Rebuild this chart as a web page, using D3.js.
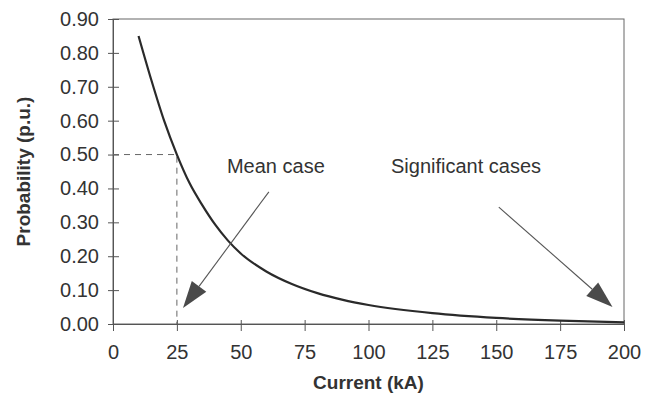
<!DOCTYPE html>
<html>
<head>
<meta charset="utf-8">
<script src="https://cdn.jsdelivr.net/npm/d3@7"></script>
<style>
  body { margin: 0; background: #fff; }
  svg text { font-family: "Liberation Sans", Arial, sans-serif; fill: #333; }
</style>
</head>
<body>
<div id="chart"></div>
<script>
const width = 657;
const height = 411;
const margin = { top: 19, right: 33, bottom: 87, left: 113 };

// current (kA) and probability (p.u.)
const current = [10, 15, 20, 25, 30, 35, 40, 45, 50, 60, 70, 80, 90, 100, 125, 150, 175, 200];
const probability = [0.85, 0.72, 0.6, 0.5, 0.415, 0.35, 0.293, 0.246, 0.208, 0.155, 0.118, 0.091, 0.071, 0.056, 0.032, 0.018, 0.01, 0.005];

const xTicks = [0, 25, 50, 75, 100, 125, 150, 175, 200];
const yTicks = [0, 0.1, 0.2, 0.3, 0.4, 0.5, 0.6, 0.7, 0.8, 0.9];

const meanCase = { x: 25, y: 0.5 };

// annotations: label position and arrow from/to, in data units
const notes = [
  { text: "Mean case", tx: 44.6, ty: 0.445, x1: 61, y1: 0.39, x2: 27.4, y2: 0.047 },
  { text: "Significant cases", tx: 108.8, ty: 0.445, x1: 151, y1: 0.345, x2: 195.5, y2: 0.05 },
];

const svg = d3
  .select("#chart")
  .append("svg")
  .attr("width", width)
  .attr("height", height);

const x = d3.scaleLinear().domain([0, 200]).range([margin.left, width - margin.right]);
const y = d3.scaleLinear().domain([0, 0.9]).range([height - margin.bottom, margin.top]);

// frame
svg
  .append("rect")
  .attr("x", x(0))
  .attr("y", y(0.9))
  .attr("width", x(200) - x(0))
  .attr("height", y(0) - y(0.9))
  .attr("fill", "none")
  .attr("stroke", "#666")
  .attr("stroke-width", 1);

// axes
const gx = svg
  .append("g")
  .attr("transform", `translate(0,${y(0)})`)
  .call(d3.axisBottom(x).tickValues(xTicks).tickFormat(d3.format("d")).tickSize(7).tickPadding(14));
gx.select(".domain").attr("stroke", "#555");
gx.selectAll(".tick line").attr("y1", -4).attr("stroke", "#555");
gx.selectAll(".tick text").attr("font-size", 20).attr("fill", "#333");

const gy = svg
  .append("g")
  .attr("transform", `translate(${x(0)},0)`)
  .call(d3.axisLeft(y).tickValues(yTicks).tickFormat(d3.format(".2f")).tickSize(5).tickPadding(9));
gy.select(".domain").attr("stroke", "#555");
gy.selectAll(".tick line").attr("x1", 6).attr("stroke", "#555");
gy.selectAll(".tick text").attr("font-size", 20).attr("fill", "#333");

// dashed guides for the mean case
svg
  .append("path")
  .attr("d", `M${x(0)},${y(meanCase.y)}H${x(meanCase.x)}V${y(0)}`)
  .attr("fill", "none")
  .attr("stroke", "#666")
  .attr("stroke-width", 1)
  .attr("stroke-dasharray", "6,5");

// curve
const line = d3
  .line()
  .x((d, i) => x(current[i]))
  .y((d) => y(d))
  .curve(d3.curveMonotoneX);

svg
  .append("path")
  .datum(probability)
  .attr("d", line)
  .attr("fill", "none")
  .attr("stroke", "#2a2a2a")
  .attr("stroke-width", 2.2);

// annotations with arrows
const headLen = 27;
const headHalf = 9;
notes.forEach((n) => {
  const ax = x(n.x1), ay = y(n.y1), bx = x(n.x2), by = y(n.y2);
  const dx = bx - ax, dy = by - ay;
  const len = Math.hypot(dx, dy);
  const ux = dx / len, uy = dy / len;
  const baseX = bx - ux * headLen, baseY = by - uy * headLen;

  svg
    .append("line")
    .attr("x1", ax)
    .attr("y1", ay)
    .attr("x2", baseX)
    .attr("y2", baseY)
    .attr("stroke", "#555")
    .attr("stroke-width", 1.1);

  svg
    .append("path")
    .attr(
      "d",
      `M${bx},${by}L${baseX - uy * headHalf},${baseY + ux * headHalf}L${baseX + uy * headHalf},${baseY - ux * headHalf}Z`
    )
    .attr("fill", "#4a4a4a");

  svg
    .append("text")
    .attr("x", x(n.tx))
    .attr("y", y(n.ty))
    .attr("font-size", 20)
    .text(n.text);
});

// axis titles
svg
  .append("text")
  .attr("x", (x(0) + x(200)) / 2)
  .attr("y", 389)
  .attr("text-anchor", "middle")
  .attr("font-size", 19)
  .attr("font-weight", "bold")
  .text("Current (kA)");

svg
  .append("text")
  .attr("transform", `translate(30,${(y(0) + y(0.9)) / 2}) rotate(-90)`)
  .attr("text-anchor", "middle")
  .attr("font-size", 19)
  .attr("font-weight", "bold")
  .text("Probability (p.u.)");
</script>
</body>
</html>
